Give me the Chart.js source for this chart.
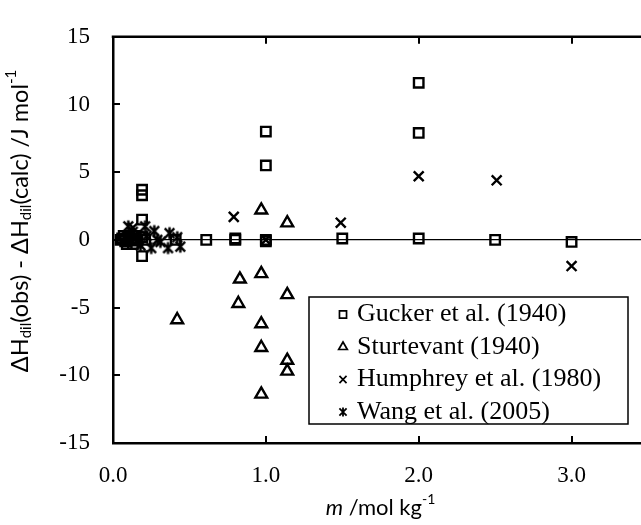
<!DOCTYPE html>
<html>
<head>
<meta charset="utf-8">
<script src="https://cdn.jsdelivr.net/npm/chart.js@4"></script>
<style>
  html, body { margin: 0; padding: 0; background: #fff; overflow: hidden; }
  #wrap { width: 660px; height: 525px; }
</style>
</head>
<body>
<div id="wrap"><canvas id="myChart" width="660" height="525"></canvas></div>
<script>
// m / mol kg-1 and deviation / J mol-1
const guckerM = [0.05, 0.06, 0.07, 0.08, 0.09, 0.10, 0.11, 0.12, 0.13, 0.14, 0.15, 0.16, 0.19, 0.19, 0.19, 0.19, 0.19, 0.21, 0.41, 0.61, 0.80, 0.80, 1.00, 1.00, 1.00, 1.00, 1.50, 2.00, 2.00, 2.00, 2.50, 3.00];
const guckerV = [0.0, 0.1, 0.3, -0.1, -0.3, 0.2, 0.3, 0.0, -0.3, 0.1, 0.3, -0.05, 3.7, 3.3, 1.5, 0.2, -1.2, 0.0, 0.0, 0.0, 0.1, 0.0, 8.0, 5.5, 0.0, -0.1, 0.1, 11.6, 7.9, 0.1, 0.0, -0.15];

const sturtM = [0.42, 0.82, 0.83, 0.97, 0.97, 0.97, 0.97, 0.97, 1.14, 1.14, 1.14, 1.14];
const sturtV = [-5.9, -4.7, -2.9, 2.2, -2.5, -6.2, -7.95, -11.4, 1.25, -4.05, -8.9, -9.7];

const humphM = [0.13, 0.79, 1.00, 1.49, 2.00, 2.51, 3.00];
const humphV = [0.9, 1.7, 0.0, 1.27, 4.7, 4.4, -1.93];

const wangM = [0.09, 0.10, 0.13, 0.18, 0.21, 0.22, 0.25, 0.27, 0.29, 0.31, 0.36, 0.37, 0.42, 0.44];
const wangV = [0.2, 1.0, 0.6, -0.4, 1.0, 0.3, -0.6, 0.65, 0.0, -0.15, -0.6, 0.5, 0.2, -0.5];

const seriesNames = ["Gucker et al. (1940)", "Sturtevant (1940)", "Humphrey et al. (1980)", "Wang et al. (2005)"];
const xTicks = [0, 1, 2, 3];
const yTicks = [-15, -10, -5, 0, 5, 10, 15];

const toPoints = (xs, ys) => xs.map((x, i) => ({ x: x, y: ys[i] }));

// excel style star: x with a vertical bar
function starMarker(size, lw) {
  const c = document.createElement("canvas");
  c.width = size;
  c.height = size;
  const g = c.getContext("2d");
  const h = size / 2;
  const d = h - 1.5;
  g.strokeStyle = "#000";
  g.lineWidth = lw;
  g.beginPath();
  g.moveTo(h - d * 0.8, h - d * 0.8); g.lineTo(h + d * 0.8, h + d * 0.8);
  g.moveTo(h + d * 0.8, h - d * 0.8); g.lineTo(h - d * 0.8, h + d * 0.8);
  g.moveTo(h, h - d); g.lineTo(h, h + d);
  g.stroke();
  return c;
}
const star = starMarker(15, 2.4);
const starSmall = starMarker(12, 1.8);

const serif = "'Liberation Serif', 'Times New Roman', serif";
const sans = "Lato, 'Open Sans', sans-serif";

function richText(ctx, parts, x, y, size, family) {
  const fontOf = (p) => (p.it ? "italic " : "") + ((p.sub || p.sup) ? Math.round(size * 0.65) : size) + "px " + family;
  let w = 0;
  parts.forEach((p) => { ctx.font = fontOf(p); w += ctx.measureText(p.t).width; });
  let cx = x - w / 2;
  parts.forEach((p) => {
    ctx.font = fontOf(p);
    const dy = p.sub ? size * 0.28 : p.sup ? -size * 0.38 : 0;
    ctx.fillText(p.t, cx, y + dy);
    cx += ctx.measureText(p.t).width;
  });
}

const overlay = {
  id: "overlay",
  afterDatasetsDraw(chart) {
    const ctx = chart.ctx;
    const a = chart.chartArea;
    const xs = chart.scales.x;
    const ys = chart.scales.y;
    ctx.save();
    ctx.strokeStyle = "#000";
    ctx.lineWidth = 2.5;
    // top border
    ctx.beginPath();
    ctx.moveTo(a.left - 1.25, a.top);
    ctx.lineTo(a.right, a.top);
    ctx.stroke();
    // inward ticks
    ctx.lineWidth = 2;
    ctx.beginPath();
    xTicks.slice(1).forEach((v) => {
      const px = Math.round(xs.getPixelForValue(v));
      ctx.moveTo(px, a.bottom); ctx.lineTo(px, a.bottom - 7);
      ctx.moveTo(px, a.top); ctx.lineTo(px, a.top + 7);
    });
    yTicks.slice(1, -1).forEach((v) => {
      const py = Math.round(ys.getPixelForValue(v));
      ctx.moveTo(a.left, py); ctx.lineTo(a.left + 7, py);
    });
    ctx.stroke();
    ctx.restore();
  },
  afterDraw(chart) {
    const ctx = chart.ctx;
    const a = chart.chartArea;
    ctx.save();
    ctx.fillStyle = "#000";
    ctx.textBaseline = "middle";

    // axis titles
    richText(ctx, [{ t: "m", it: true }, { t: " /mol kg" }, { t: "-1", sup: true }],
      (a.left + a.right) / 2, 508, 22, sans);
    ctx.save();
    ctx.translate(20, 221);
    ctx.rotate(-Math.PI / 2);
    richText(ctx, [
      { t: "ΔH" }, { t: "dil", sub: true }, { t: "(obs) - ΔH" }, { t: "dil", sub: true },
      { t: "(calc) /J mol" }, { t: "-1", sup: true },
    ], 0, 0, 23.5, sans);
    ctx.restore();

    // legend box
    const bx = 309, by = 297, bw = 319, bh = 127;
    ctx.fillStyle = "#fff";
    ctx.fillRect(bx, by, bw, bh);
    ctx.strokeStyle = "#000";
    ctx.lineWidth = 1.5;
    ctx.strokeRect(bx, by, bw, bh);
    const styles = ["rect", "triangle", "crossRot", starSmall];
    const radii = [5, 5, 5, 6];
    seriesNames.forEach((name, i) => {
      const ly = 313.5 + i * 32.5;
      ctx.strokeStyle = "#000";
      ctx.fillStyle = "rgba(0,0,0,0)";
      ctx.lineWidth = 1.7;
      Chart.helpers.drawPoint(ctx, { pointStyle: styles[i], radius: radii[i], rotation: 0, borderWidth: 1.7 }, 343, ly + 1);
      ctx.fillStyle = "#000";
      ctx.font = "26px " + serif;
      ctx.textAlign = "left";
      ctx.fillText(name, 357, ly + 1);
    });
    ctx.restore();
  },
};

const data = {
  datasets: [
    { label: seriesNames[0], data: toPoints(guckerM, guckerV), pointStyle: "rect", pointRadius: 6.7 },
    { label: seriesNames[1], data: toPoints(sturtM, sturtV), pointStyle: "triangle", pointRadius: 6.8 },
    { label: seriesNames[2], data: toPoints(humphM, humphV), pointStyle: "crossRot", pointRadius: 7 },
    { label: seriesNames[3], data: toPoints(wangM, wangV), pointStyle: star, pointRadius: 7 },
  ].map((d) => Object.assign(d, {
    borderColor: "#000",
    backgroundColor: "rgba(0,0,0,0)",
    pointBorderWidth: 2.4,
    pointHoverRadius: 7,
    showLine: false,
  })),
};

const config = {
  type: "scatter",
  data: data,
  options: {
    responsive: false,
    animation: false,
    devicePixelRatio: 1,
    layout: { padding: { top: 19, right: 12, bottom: 0, left: 0 } },
    plugins: { legend: { display: false }, tooltip: { enabled: false } },
    scales: {
      x: {
        type: "linear",
        min: 0,
        max: 3.5,
        afterFit: (s) => { s.height = 82; },
        afterBuildTicks: (s) => { s.ticks = xTicks.map((v) => ({ value: v })); },
        grid: { drawOnChartArea: false, drawTicks: false },
        border: { color: "#000", width: 2.5 },
        ticks: {
          padding: 19,
          color: "#000",
          font: { family: serif, size: 23 },
          callback: (v) => v.toFixed(1),
        },
      },
      y: {
        min: -15,
        max: 15,
        afterFit: (s) => { s.width = 113; },
        afterBuildTicks: (s) => { s.ticks = yTicks.map((v) => ({ value: v })); },
        grid: {
          drawTicks: false,
          color: (c) => (c.tick && c.tick.value === 0 ? "#000" : "rgba(0,0,0,0)"),
          lineWidth: 1.3,
        },
        border: { color: "#000", width: 2.5 },
        ticks: {
          padding: 23,
          color: "#000",
          font: { family: serif, size: 23 },
        },
      },
    },
  },
  plugins: [overlay],
};

new Chart(document.getElementById("myChart"), config);
</script>
</body>
</html>
